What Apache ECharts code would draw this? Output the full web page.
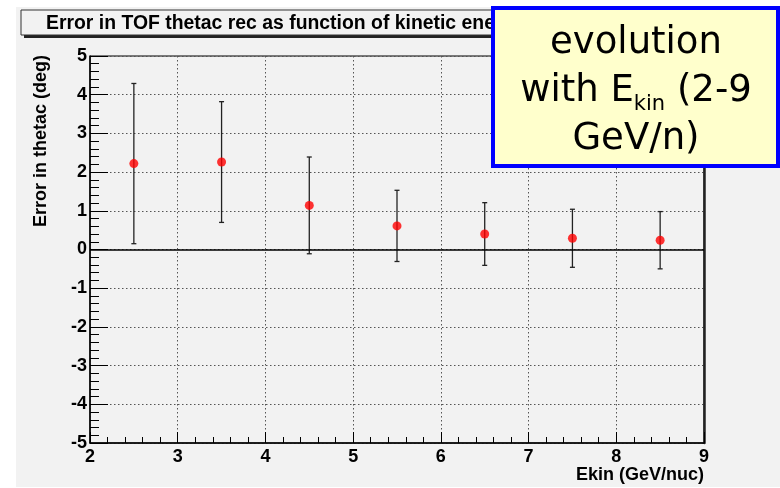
<!DOCTYPE html>
<html>
<head>
<meta charset="utf-8">
<script src="https://cdn.jsdelivr.net/npm/echarts@6/dist/echarts.min.js"></script>
<style>
  html, body { margin: 0; padding: 0; background: #ffffff; }
  #chart { width: 780px; height: 488px; }
</style>
</head>
<body>
<div id="chart"></div>
<script>
// Kinetic energy bin centres (GeV/nuc)
const ekin = [2.5, 3.5, 4.5, 5.5, 6.5, 7.5, 8.5];
// Mean error in reconstructed thetac (deg)
const thetacErr = [2.22, 2.26, 1.14, 0.61, 0.40, 0.29, 0.24];
// Half-length of the error bars (deg)
const thetacSpread = [2.07, 1.56, 1.25, 0.92, 0.81, 0.75, 0.74];

const xTicks = [2, 3, 4, 5, 6, 7, 8, 9];
const yTicks = [-5, -4, -3, -2, -1, 0, 1, 2, 3, 4, 5];

const titleText = 'Error in TOF thetac rec as function of kinetic energy';
const xTitle = 'Ekin (GeV/nuc)';
const yTitle = 'Error in thetac (deg)';

const points = ekin.map((x, i) => [x, thetacErr[i], thetacSpread[i]]);

const labelFont = { fontFamily: 'Liberation Sans', fontWeight: 'bold', fontSize: 18, color: '#000' };
const gridDots = { color: '#555', width: 1, type: [1.5, 2.5] };

const chart = echarts.init(document.getElementById('chart'), null, { renderer: 'canvas' });

chart.setOption({
  backgroundColor: '#f2f2f2',
  animation: false,
  grid: { left: 90, right: 76, top: 56, bottom: 45, show: true, borderColor: '#000', borderWidth: 1, backgroundColor: 'transparent' },
  xAxis: {
    type: 'value', min: xTicks[0], max: xTicks[xTicks.length - 1], interval: 1,
    axisLine: { show: true, onZero: false, lineStyle: { color: '#000', width: 1.5 } },
    axisTick: { show: true, inside: true, length: 11, lineStyle: { color: '#000', width: 1 } },
    minorTick: { show: true, splitNumber: 5, length: 6, lineStyle: { color: '#000', width: 1 } },
    splitLine: { show: true, lineStyle: gridDots },
    axisLabel: Object.assign({ margin: 5 }, labelFont),
    name: xTitle, nameLocation: 'end', nameGap: 0,
    nameTextStyle: Object.assign({ align: 'right', verticalAlign: 'top', padding: [23, 0, 0, 0] }, labelFont)
  },
  yAxis: [{
    type: 'value', min: yTicks[0], max: yTicks[yTicks.length - 1], interval: 1,
    axisLine: { show: true, onZero: false, lineStyle: { color: '#000', width: 1.5 } },
    axisTick: { show: true, inside: true, length: 18, lineStyle: { color: '#000', width: 1 } },
    minorTick: { show: true, splitNumber: 5, length: 9, lineStyle: { color: '#000', width: 1 } },
    splitLine: { show: true, lineStyle: gridDots },
    axisLabel: Object.assign({ margin: 3 }, labelFont)
  }, {
    type: 'value', position: 'right', min: yTicks[0], max: yTicks[yTicks.length - 1], interval: 1,
    axisLine: { show: true, onZero: false, lineStyle: { color: '#222', width: 2.5 } },
    axisTick: { show: false }, axisLabel: { show: false }, splitLine: { show: false }
  }],
  series: [{
    type: 'custom',
    data: points,
    z: 3,
    renderItem: function (params, api) {
      const x = api.value(0), y = api.value(1), e = api.value(2);
      const top = api.coord([x, y + e]);
      const bot = api.coord([x, y - e]);
      const cap = 2.5;
      const style = { stroke: '#222', lineWidth: 1.3 };
      return {
        type: 'group',
        children: [
          { type: 'line', shape: { x1: top[0], y1: top[1], x2: bot[0], y2: bot[1] }, style: style },
          { type: 'line', shape: { x1: top[0] - cap, y1: top[1], x2: top[0] + cap, y2: top[1] }, style: style },
          { type: 'line', shape: { x1: bot[0] - cap, y1: bot[1], x2: bot[0] + cap, y2: bot[1] }, style: style }
        ]
      };
    },
    encode: { x: 0, y: 1 }
  }, {
    type: 'scatter',
    data: points.map(p => [p[0], p[1]]),
    symbol: 'circle', symbolSize: 9, z: 4,
    itemStyle: { color: '#ff0000' },
    markLine: {
      silent: true, symbol: 'none', label: { show: false },
      lineStyle: { color: '#000', width: 1.5, type: 'solid' },
      data: [{ yAxis: 0 }]
    }
  }],
  graphic: [
    // white page margins
    { type: 'rect', shape: { x: 0, y: 0, width: 16, height: 488 }, style: { fill: '#fff' }, silent: true },
    { type: 'rect', shape: { x: 0, y: 0, width: 780, height: 7 }, style: { fill: '#fff' }, silent: true },
    { type: 'rect', shape: { x: 0, y: 487, width: 780, height: 1 }, style: { fill: '#fff' }, silent: true },
    // y-axis title, aligned to the top of the axis
    { type: 'text', x: 41, y: 55, rotation: Math.PI / 2, silent: true,
      style: { text: yTitle, fontFamily: 'Liberation Sans', fontWeight: 'bold', fontSize: 18, fill: '#000', align: 'right', verticalAlign: 'middle' } },
    // title box with shadow
    { type: 'rect', shape: { x: 24, y: 13, width: 738, height: 25 }, style: { fill: '#222' }, z: 50, silent: true },
    { type: 'rect', shape: { x: 21, y: 10, width: 738, height: 25 }, style: { fill: '#f2f2f2', stroke: '#333', lineWidth: 1 }, z: 51, silent: true },
    { type: 'text', x: 46, y: 23.5, z: 52, silent: true,
      style: { text: titleText, fontFamily: 'Liberation Sans', fontWeight: 'bold', fontSize: 19.4, fill: '#000', verticalAlign: 'middle', align: 'left' } },
    // annotation box
    { type: 'rect', shape: { x: 493, y: 8, width: 285, height: 158 }, style: { fill: '#ffffcc', stroke: '#0000ff', lineWidth: 4 }, z: 60, silent: true },
    { type: 'text', x: 636, y: 91, z: 61, silent: true,
      style: {
        text: '{n|evolution}\n{n|with E}{s|kin}{n| (2-9}\n{n|GeV/n)}',
        align: 'center', verticalAlign: 'middle', fill: '#000',
        rich: {
          n: { fontFamily: 'DejaVu Sans', fontSize: 37, lineHeight: 48, fill: '#000' },
          s: { fontFamily: 'DejaVu Sans', fontSize: 21, lineHeight: 14, verticalAlign: 'bottom', fill: '#000' }
        }
      } }
  ]
});
</script>
</body>
</html>
